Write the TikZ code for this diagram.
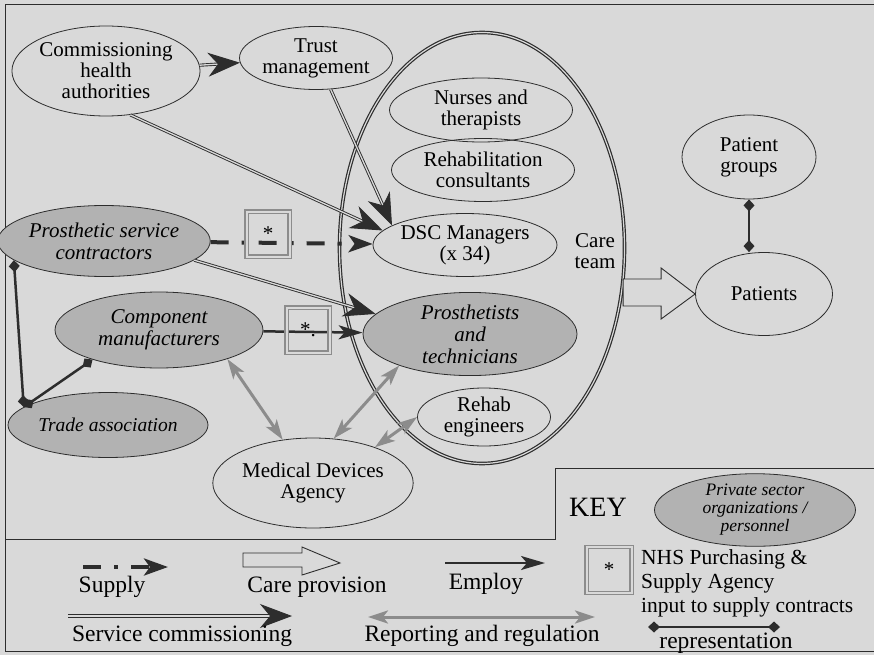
\documentclass[tikz,border=0pt]{standalone}
\usepackage{fontspec}
\setmainfont{Liberation Serif}
\usetikzlibrary{shapes.geometric,arrows.meta}
\definecolor{paper}{RGB}{217,217,217}
\definecolor{priv}{RGB}{178,178,178}
\definecolor{ink}{RGB}{45,45,45}
\definecolor{regul}{RGB}{140,140,140}
\tikzset{>=latex}

\begin{document}
\begin{tikzpicture}[x=1pt,y=-1pt,
    every node/.style={align=center,inner sep=0pt,font=\fontsize{21}{21}\selectfont},
    body/.style={ellipse,draw=ink,line width=0.8pt},
    private/.style={body,fill=priv,font=\fontsize{21}{22}\selectfont\itshape},
    team/.style={ellipse,draw=ink,double=paper,double distance=1.2pt,line width=1.2pt},
    nhsbox/.style={draw=regul,double=paper,double distance=2pt,line width=1.3pt,
      minimum width=43,minimum height=45},
    keytext/.style={font=\fontsize{23.5}{24}\selectfont},
    supply/.style={ink,line width=4pt,dash pattern=on 18pt off 13pt on 4pt off 13pt,
      -{Stealth[length=24pt,width=17pt,inset=6pt]}},
    commission/.style={ink,double=paper,double distance=1.3pt,line width=0.9pt,
      -{Stealth[length=32pt,width=24pt,inset=10pt]}},
    employ/.style={ink,line width=2.5pt,-{Stealth[length=24pt,width=14pt,inset=6pt]}},
    report/.style={regul,line width=3pt,
      {Stealth[length=20pt,width=13pt,inset=5pt]}-{Stealth[length=20pt,width=13pt,inset=5pt]}},
    represent/.style={ink,line width=2.5pt,{Diamond[length=12pt,width=11pt]}-{Diamond[length=12pt,width=11pt]}},
    provide/.style={draw=ink,line width=0.9pt,fill=paper}
  ]

  % PAPER AND FRAME
  \fill[paper] (0,0) rectangle (874,655);
  \useasboundingbox (0,0) rectangle (874,655);
  \draw[ink,line width=1pt] (874,5) -- (5,5) -- (5,651) -- (874,651);
  \draw[ink,line width=1pt] (5,539) -- (555,539) -- (555,468) -- (874,468);

  % NHS BODIES
  \node[body,minimum width=181,minimum height=90] (cha) at (106,71) {Commissioning\\health\\authorities};
  \node[body,minimum width=153,minimum height=63] (trust) at (316,58) {Trust\\management};
  \node[team,minimum width=285,minimum height=431] (ct) at (482,248) {};
  \node[body,minimum width=183,minimum height=64] (nurse) at (481,110) {Nurses and\\therapists};
  \node[body,minimum width=183,minimum height=63] (rcons) at (483,170) {Rehabilitation\\consultants};
  \node[body,minimum width=184,minimum height=63] (dsc) at (465,245) {DSC Managers\\(x 34)};
  \node (care) at (595,251) {Care\\team};
  \node[body,minimum width=133,minimum height=58] (re) at (484,417) {Rehab\\engineers};
  \node[body,minimum width=182,minimum height=90] (mda) at (313,483) {Medical Devices\\Agency};
  \node[body,minimum width=134,minimum height=84] (pg) at (749,157) {Patient\\groups};
  \node[body,minimum width=137,minimum height=83] (pat) at (764,294) {Patients};

  % PRIVATE SECTOR
  \node[private,minimum width=214,minimum height=82] (pt) at (470,334) {Prosthetists\\and\\technicians};
  \node[private,minimum width=179,minimum height=71] (psc) at (104,241) {Prosthetic service\\contractors};
  \node[private,minimum width=208,minimum height=76] (cm) at (159,330) {Component\\manufacturers};
  \node[private,minimum width=200,minimum height=65,font=\fontsize{19.5}{20}\selectfont\itshape]
    (ta) at (108,425) {Trade association};

  % SERVICE COMMISSIONING
  \draw[commission] (cha) -- (trust);
  \draw[commission] (cha.-61) -- (dsc.170);
  \draw[commission] (trust.-65) -- (dsc.165);
  \draw[commission] (psc.-12) -- (pt.168);

  % SUPPLY AND EMPLOY
  \draw[supply] (psc) -- (dsc);
  \draw[employ] (cm) -- (pt);
  \node[nhsbox] (nhsa) at (268,234) {*};
  \node[nhsbox] (nhsb) at (308,330) {*.};

  % REPORTING AND REGULATION
  \draw[report] (cm.-23) -- (mda.125);
  \draw[report] (pt.204) -- (mda.65);
  \draw[report] (re.west) -- (mda.30);

  % REPRESENTATION
  \draw[represent] (psc.192) -- (ta.168);
  \draw[represent] (ta.168) -- (cm.-156);
  \draw[represent] (pg.south) -- (pg.south |- pat.north);

  % CARE PROVISION
  \draw[provide] (pat.west) -- ++(-34,-26) -- ++(0,11) -- ++(-38,0) -- ++(0,27)
    -- ++(38,0) -- ++(0,13) -- cycle;

  % KEY
  \node[font=\fontsize{28}{28}\selectfont] (key) at (598,507) {KEY};
  \node[private,minimum width=201,minimum height=65,font=\fontsize{17.5}{18}\selectfont\itshape]
    (kpriv) at (755,510) {Private sector\\organizations /\\personnel};

  \coordinate (ksa) at (83,567);  \coordinate (ksb) at (168,567);
  \draw[supply] (ksa) -- (ksb);
  \node[keytext] (ksupply) at (112,587) {Supply};

  \coordinate (kcare) at (340,563);
  \draw[provide] (kcare) -- ++(-38,-16) -- ++(0,6) -- ++(-59,0) -- ++(0,14)
    -- ++(59,0) -- ++(0,8) -- cycle;
  \node[keytext] (kcarel) at (317,587) {Care provision};

  \coordinate (kea) at (445,563);  \coordinate (keb) at (545,563);
  \draw[employ] (kea) -- (keb);
  \node[keytext] (kemploy) at (486,584) {Employ};

  \node[nhsbox,minimum width=45,minimum height=46] (knhs) at (609,570) {*};
  \node[keytext,font=\fontsize{21.5}{24}\selectfont,align=left,anchor=west]
    (knhsl) at (641,583) {NHS Purchasing \&\\Supply Agency\\input to supply contracts};

  \coordinate (kca) at (68,616);  \coordinate (kcb) at (292,616);
  \draw[commission] (kca) -- (kcb);
  \node[keytext] (kcomm) at (182,636) {Service commissioning};

  \coordinate (kra) at (368,617);  \coordinate (krb) at (595,617);
  \draw[report] (kra) -- (krb);
  \node[keytext] (kreport) at (482,636) {Reporting and regulation};

  \coordinate (kpa) at (648,627);  \coordinate (kpb) at (780,627);
  \draw[represent] (kpa) -- (kpb);
  \node[keytext] (krep) at (726,643) {representation};
\end{tikzpicture}
\end{document}
